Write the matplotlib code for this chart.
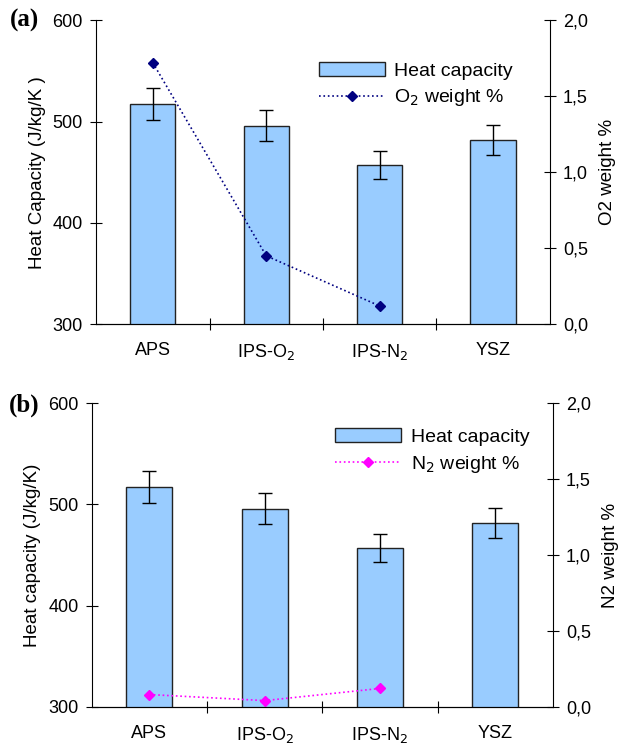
import numpy as np
import matplotlib.pyplot as plt
from matplotlib.ticker import FuncFormatter

plt.rcParams['font.family'] = ['Liberation Sans', 'DejaVu Sans']

categories = ['APS', 'IPS-O$_2$', 'IPS-N$_2$', 'YSZ']
heat_cap = [517, 496, 457, 482]
heat_err = [16, 15, 14, 15]
o2_wt = [1.72, 0.45, 0.12]
n2_wt = [0.08, 0.04, 0.12]

fig = plt.figure(figsize=(6.24, 7.47), dpi=100)
x = np.arange(len(categories))
comma = FuncFormatter(lambda v, p: ('%.1f' % v).replace('.', ','))


def panel(rect, ylabel, rlabel, wt, wt_label, color, tag, tagpos, legpos):
    ax = fig.add_axes(rect)
    ax.bar(x, heat_cap, width=0.4, color='#99CCFF', edgecolor='#222222',
           linewidth=1.0, label='Heat capacity', zorder=2)
    ax.errorbar(x, heat_cap, yerr=heat_err, fmt='none', ecolor='black',
                elinewidth=1.0, capsize=5, capthick=1.0, zorder=3)
    ax.set_ylim(300, 600)
    ax.set_yticks([300, 400, 500, 600])
    ax.set_xlim(-0.5, 3.5)
    ax.set_xticks([0.5, 1.5, 2.5])
    ax.set_xticklabels([])
    ax.set_xticks(x, minor=True)
    ax.set_xticklabels(categories, minor=True)
    ax.tick_params(axis='x', which='minor', length=0, pad=13, labelsize=13)
    ax.tick_params(axis='x', which='major', direction='inout', length=9)
    ax.tick_params(axis='y', direction='inout', length=9, labelsize=13, pad=5)
    ax.spines['top'].set_visible(False)
    ax.spines['right'].set_visible(False)
    ax.set_ylabel(ylabel, fontsize=13.5, labelpad=5)

    ax2 = ax.twinx()
    ax2.plot(x[:len(wt)], wt, linestyle=':', color=color, marker='D',
             markersize=5.5, linewidth=1.2, label=wt_label)
    ax2.set_ylim(0, 2.0)
    ax2.set_yticks([0, 0.5, 1.0, 1.5, 2.0])
    ax2.yaxis.set_major_formatter(comma)
    ax2.tick_params(axis='y', direction='inout', length=9, labelsize=13, pad=5)
    ax2.spines['top'].set_visible(False)
    ax2.spines['left'].set_visible(False)
    ax2.set_ylabel(rlabel, fontsize=13.5, labelpad=8)

    h1, l1 = ax.get_legend_handles_labels()
    h2, l2 = ax2.get_legend_handles_labels()
    ax2.legend(h1 + h2, l1 + l2, loc='upper left', bbox_to_anchor=legpos,
               frameon=False, fontsize=14, handlelength=3.4, handletextpad=0.5,
               labelspacing=0.4)
    fig.text(tagpos[0], tagpos[1], tag, fontsize=18, fontweight='bold',
             family='Liberation Serif', va='center', ha='left')
    return ax


panel([0.154, 0.566, 0.727, 0.407], 'Heat Capacity (J/kg/K )', 'O2 weight %',
      o2_wt, 'O$_2$ weight %', '#000080', '(a)', (0.016, 0.972), (0.452, 0.92))
panel([0.147, 0.054, 0.739, 0.406], 'Heat capacity (J/kg/K)', 'N2 weight %',
      n2_wt, 'N$_2$ weight %', '#FF00FF', '(b)', (0.014, 0.458), (0.49, 0.975))

fig.savefig('out.png', dpi=100)
